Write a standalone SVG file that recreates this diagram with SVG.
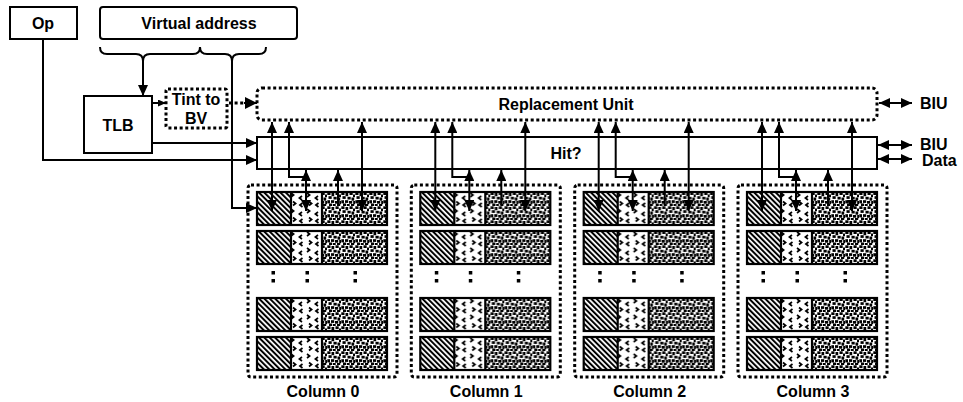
<svg xmlns="http://www.w3.org/2000/svg" width="963" height="402" viewBox="0 0 963 402">
<style>
text{font-family:"Liberation Sans",Arial,sans-serif;font-weight:bold;font-size:16px;fill:#000}
.c{text-anchor:middle}
.box{fill:#fff;stroke:#000;stroke-width:2}
.dot{fill:none;stroke:#000;stroke-width:3;stroke-dasharray:3 2.6}
.ln{fill:none;stroke:#000;stroke-width:2}
.row{fill:none;stroke:#000;stroke-width:2.2}
</style>
<defs>
<marker id="ah" viewBox="0 0 11 10" refX="11" refY="5" markerWidth="11" markerHeight="10" markerUnits="userSpaceOnUse" orient="auto-start-reverse"><path d="M0,0 L11,5 L0,10 z"/></marker>
<marker id="ahs" viewBox="0 0 8 7" refX="8" refY="3.5" markerWidth="8" markerHeight="7" markerUnits="userSpaceOnUse" orient="auto-start-reverse"><path d="M0,0 L8,3.5 L0,7 z"/></marker>
<marker id="ahb" viewBox="0 0 12 12" refX="12" refY="6" markerWidth="12" markerHeight="12" markerUnits="userSpaceOnUse" orient="auto-start-reverse"><path d="M0,0 L12,6 L0,12 z"/></marker>
<pattern id="hatch" patternUnits="userSpaceOnUse" width="3.8" height="10" patternTransform="rotate(-45)"><rect width="3.8" height="10" fill="#fff"/><rect x="0" y="0" width="2" height="10" fill="#000"/></pattern>
<pattern id="chev" patternUnits="userSpaceOnUse" width="16" height="16"><rect width="16" height="16" fill="#fff"/><path d="M2,1 l2.6,2 l-2.6,2 M13,4 l-2.6,2 l2.6,2 M4,9.5 l2.6,2 l-2.6,2 M13.5,11 l-2.6,2 l2.6,2" fill="none" stroke="#000" stroke-width="1.7"/></pattern>
<pattern id="dots" patternUnits="userSpaceOnUse" width="14" height="14"><rect width="14" height="14" fill="#fff"/><g fill="#000"><rect x="0.3" y="0.3" width="3.2" height="2.7"/><rect x="4.5" y="1" width="2.7" height="3.2"/><rect x="8.5" y="0.3" width="3.2" height="2.7"/><rect x="12" y="2.5" width="2" height="2.7"/><rect x="1.5" y="4.2" width="3.2" height="2.7"/><rect x="6.5" y="4.8" width="3.2" height="2.7"/><rect x="10.5" y="5.5" width="2.7" height="3.2"/><rect x="0.3" y="8.2" width="2.7" height="3.2"/><rect x="4" y="8.2" width="3.2" height="2.7"/><rect x="8" y="9" width="3.2" height="2.7"/><rect x="12.2" y="9" width="1.8" height="3.2"/><rect x="2" y="11.5" width="3.2" height="2.5"/><rect x="6" y="12" width="2.7" height="2"/><rect x="10" y="12" width="3.2" height="2"/></g></pattern>
<g id="row">
<rect x="0" y="0" width="34" height="33" fill="url(#hatch)"/>
<rect x="34" y="0" width="31" height="33" fill="url(#chev)"/>
<rect x="65" y="0" width="65" height="33" fill="url(#dots)"/>
<rect class="row" x="0" y="0" width="130" height="33"/>
<path class="row" d="M34,0 V33 M65,0 V33"/>
</g>
<g id="column">
<rect class="dot" x="248" y="185" width="149" height="192" rx="3"/>
<use href="#row" x="257" y="192"/>
<use href="#row" x="257" y="231"/>
<use href="#row" x="257" y="298"/>
<use href="#row" x="257" y="337"/>
<g fill="#000"><rect x="271.5" y="271" width="3.5" height="3.5"/><rect x="271.5" y="279" width="3.5" height="3.5"/><rect x="305.5" y="271" width="3.5" height="3.5"/><rect x="305.5" y="279" width="3.5" height="3.5"/><rect x="353.5" y="271" width="3.5" height="3.5"/><rect x="353.5" y="279" width="3.5" height="3.5"/></g>
</g>
<g id="colarrows">
<line class="ln" x1="272" y1="122" x2="272" y2="211" marker-start="url(#ah)" marker-end="url(#ah)"/>
<path class="ln" d="M306,177 H289 V122" marker-end="url(#ah)"/>
<line class="ln" x1="306" y1="170" x2="306" y2="211" marker-start="url(#ah)" marker-end="url(#ah)"/>
<line class="ln" x1="338" y1="205" x2="338" y2="170" marker-end="url(#ah)"/>
<line class="ln" x1="362" y1="122" x2="362" y2="211" marker-start="url(#ah)" marker-end="url(#ah)"/>
</g>
</defs>

<g id="op"><rect class="box" x="10" y="7" width="67" height="32"/><text class="c" x="43" y="29">Op</text></g>
<g id="virtual-address"><rect class="box" x="100" y="7" width="197" height="32" rx="3"/><text class="c" x="199" y="29">Virtual address</text></g>
<g id="tlb"><rect class="box" x="84" y="96" width="68" height="57"/><text class="c" x="118" y="131">TLB</text></g>
<g id="tint-to-bv"><rect class="dot" x="166" y="89" width="61" height="39" rx="2"/><text class="c" x="196" y="105">Tint to</text><text class="c" x="196" y="124">BV</text></g>
<g id="replacement-unit"><rect class="dot" x="257" y="88" width="620" height="32" rx="5"/><text class="c" x="566" y="110">Replacement Unit</text></g>
<g id="hit"><rect class="box" x="257" y="137" width="620" height="32"/><text class="c" x="566" y="159">Hit?</text></g>

<g id="column-0"><use href="#column"/><text class="c" x="323" y="397">Column 0</text></g>
<g id="column-1" transform="translate(163.3,0)"><use href="#column"/><text class="c" x="323" y="397">Column 1</text></g>
<g id="column-2" transform="translate(326.7,0)"><use href="#column"/><text class="c" x="323" y="397">Column 2</text></g>
<g id="column-3" transform="translate(490,0)"><use href="#column"/><text class="c" x="323" y="397">Column 3</text></g>

<g id="labels">
<text x="920" y="109">BIU</text>
<text x="920" y="150">BIU</text>
<text x="922" y="166">Data</text>
</g>

<g id="connectors">
<path class="ln" d="M100,47 Q100,54 107,54 H136 Q143,54 143,61 Q143,54 150,54 H193 Q200,54 200,47"/>
<path class="ln" d="M200,47 Q200,54 207,54 H225 Q232,54 232,61 Q232,54 239,54 H259 Q266,54 266,47"/>
<line class="ln" x1="143" y1="61" x2="143" y2="96" marker-end="url(#ah)"/>
<path class="ln" d="M232,61 V208 H257" marker-end="url(#ah)"/>
<path class="ln" d="M43,39 V160 H257" marker-end="url(#ah)"/>
<line class="ln" x1="152" y1="143" x2="257" y2="143" marker-end="url(#ah)"/>
<line class="ln" x1="152" y1="103" x2="166" y2="103" marker-end="url(#ahs)"/>
<line x1="229" y1="103" x2="246" y2="103" stroke="#000" stroke-width="3" stroke-dasharray="3 2.6"/>
<line class="ln" x1="244" y1="103" x2="257" y2="103" marker-end="url(#ahb)"/>
<line class="ln" x1="879" y1="103" x2="912" y2="103" marker-start="url(#ah)" marker-end="url(#ah)"/>
<line class="ln" x1="878" y1="145" x2="912" y2="145" marker-start="url(#ah)" marker-end="url(#ah)"/>
<line class="ln" x1="878" y1="159" x2="912" y2="159" marker-start="url(#ah)" marker-end="url(#ah)"/>
<use href="#colarrows"/>
<use href="#colarrows" transform="translate(163.3,0)"/>
<use href="#colarrows" transform="translate(326.7,0)"/>
<use href="#colarrows" transform="translate(490,0)"/>
</g>
</svg>
